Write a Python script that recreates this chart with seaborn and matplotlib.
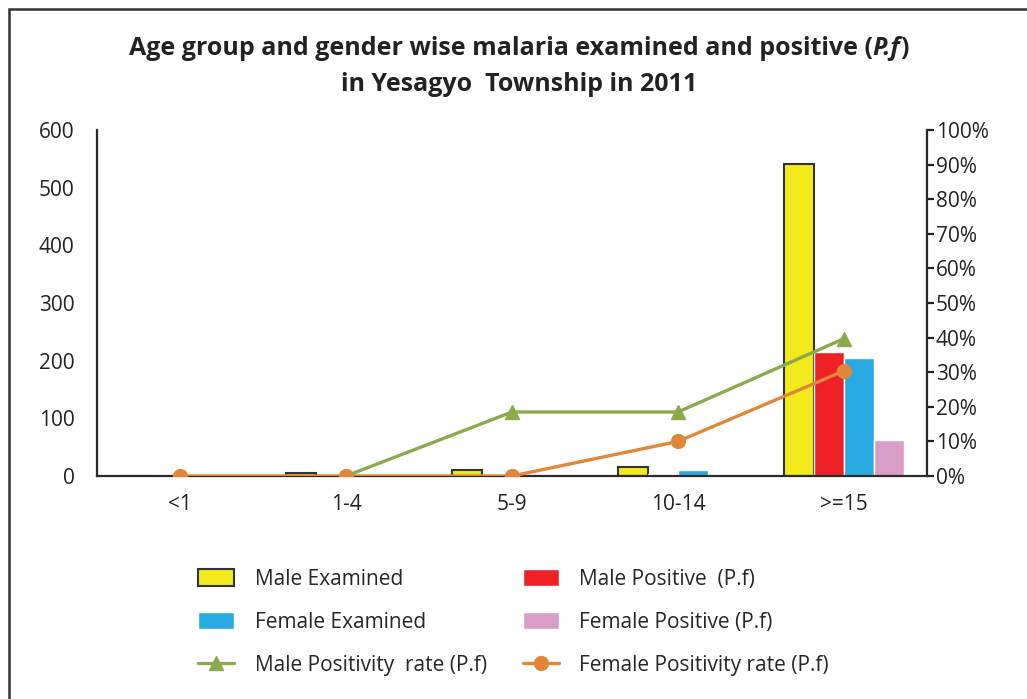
import numpy as np
import pandas as pd
import matplotlib
matplotlib.use('Agg')
import matplotlib.pyplot as plt
import seaborn as sns
from matplotlib.patches import Rectangle, Patch
from matplotlib.lines import Line2D

# dados
grupos = ['<1', '1-4', '5-9', '10-14', '>=15']
masc_examinados = [0, 5, 11, 16, 541]
masc_positivos = [0, 0, 2, 4, 215]
fem_examinados = [0, 1, 3, 10, 205]
fem_positivos = [0, 0, 0, 1, 62]
taxa_masc = [np.nan, 0.0, 18.5, 18.5, 39.7]   # %
taxa_fem = [0.0, 0.0, 0.0, 10.0, 30.4]        # %

series = ['Male Examined', 'Male Positive  (P.f)', 'Female Examined', 'Female Positive (P.f)']
cores = ['#F2EA1B', '#EE2225', '#29ABE2', '#D99EC8']
cor_verde = '#8BAA4B'
cor_laranja = '#E0873A'

df = pd.DataFrame({
    'grupo': grupos * 4,
    'serie': np.repeat(series, len(grupos)),
    'valor': masc_examinados + masc_positivos + fem_examinados + fem_positivos,
})

sns.set_style('white')
plt.rcParams['font.family'] = ['Open Sans', 'DejaVu Sans']

fig = plt.figure(figsize=(10.27, 6.99), dpi=100)
ax = fig.add_axes([0.0944, 0.319, 0.8082, 0.495])

sns.barplot(data=df, x='grupo', y='valor', hue='serie', order=grupos, hue_order=series,
            palette=cores, width=0.72, saturation=1, gap=0, ax=ax, legend=False)

# contorno escuro nas barras "Male Examined"
for p in ax.patches[:len(grupos)]:
    p.set_edgecolor('#333333')
    p.set_linewidth(1.5)

ax.set_ylim(0, 600)
ax.set_yticks(range(0, 601, 100))
ax.set_xlim(-0.5, 4.5)
ax.set_xlabel('')
ax.set_ylabel('')
ax.tick_params(axis='y', labelsize=15, length=0, pad=16, colors='#222222')
ax.tick_params(axis='x', labelsize=15, length=0, pad=13, colors='#222222')
for lado in ['left', 'bottom']:
    ax.spines[lado].set_color('#2a2a2a')
    ax.spines[lado].set_linewidth(1.6)
ax.spines['top'].set_visible(False)
ax.spines['right'].set_visible(False)

ax2 = ax.twinx()
x = np.arange(len(grupos))
ax2.plot(x, taxa_masc, color=cor_verde, lw=2.4, marker='^', ms=10, zorder=5)
ax2.plot(x, taxa_fem, color=cor_laranja, lw=2.4, marker='o', ms=10, zorder=6)
ax2.set_ylim(0, 100)
ax2.set_yticks(range(0, 101, 10))
ax2.set_yticklabels([f'{v}%' for v in range(0, 101, 10)])
ax2.tick_params(axis='y', labelsize=15, length=5, width=1.6, direction='out',
                pad=1.5, colors='#222222')
ax2.spines['right'].set_color('#2a2a2a')
ax2.spines['right'].set_linewidth(1.6)
for lado in ['top', 'left', 'bottom']:
    ax2.spines[lado].set_visible(False)
ax2.set_xlim(-0.5, 4.5)

# título em duas linhas, com "P.f" em itálico
fs_titulo = 18
r = fig.canvas.get_renderer()
partes = [('Age group and gender wise malaria examined and positive (', 'normal'),
          ('P.f', 'italic'), (')', 'normal')]
textos = [fig.text(0, 0.931, s, fontsize=fs_titulo, fontweight='bold', style=st,
                   va='center', color='#222222') for s, st in partes]
larguras = [t.get_window_extent(r).width for t in textos]
x0 = (0.505 * fig.bbox.width - sum(larguras) / 2)
for t, w in zip(textos, larguras):
    t.set_x(x0 / fig.bbox.width)
    x0 += w
fig.text(0.505, 0.879, 'in Yesagyo  Township in 2011',
         ha='center', va='center', fontsize=fs_titulo, fontweight='bold', color='#222222')

# legenda
h_me = Patch(facecolor=cores[0], edgecolor='#333333', linewidth=1.5)
h_mp = Patch(facecolor=cores[1])
h_fe = Patch(facecolor=cores[2])
h_fp = Patch(facecolor=cores[3])
h_mr = Line2D([], [], color=cor_verde, lw=2.4, marker='^', ms=10)
h_fr = Line2D([], [], color=cor_laranja, lw=2.4, marker='o', ms=10)
fig.legend([h_me, h_fe, h_mr, h_mp, h_fp, h_fr],
           ['Male Examined', 'Female Examined', 'Male Positivity  rate (P.f)',
            'Male Positive  (P.f)', 'Female Positive (P.f)', 'Female Positivity rate (P.f)'],
           ncol=2, loc='upper left', bbox_to_anchor=(0.185, 0.198), frameon=False,
           fontsize=15, handlelength=1.7, handleheight=0.9, labelspacing=1.05,
           columnspacing=1.75, handletextpad=1.0, borderaxespad=0)

# moldura externa
fig.patches.append(Rectangle((9 / 1027, -0.05), 1.2, 1 - 9 / 699 + 0.05,
                             transform=fig.transFigure, fill=False,
                             edgecolor='#333333', lw=1.8))

fig.savefig('out.png', dpi=100)
